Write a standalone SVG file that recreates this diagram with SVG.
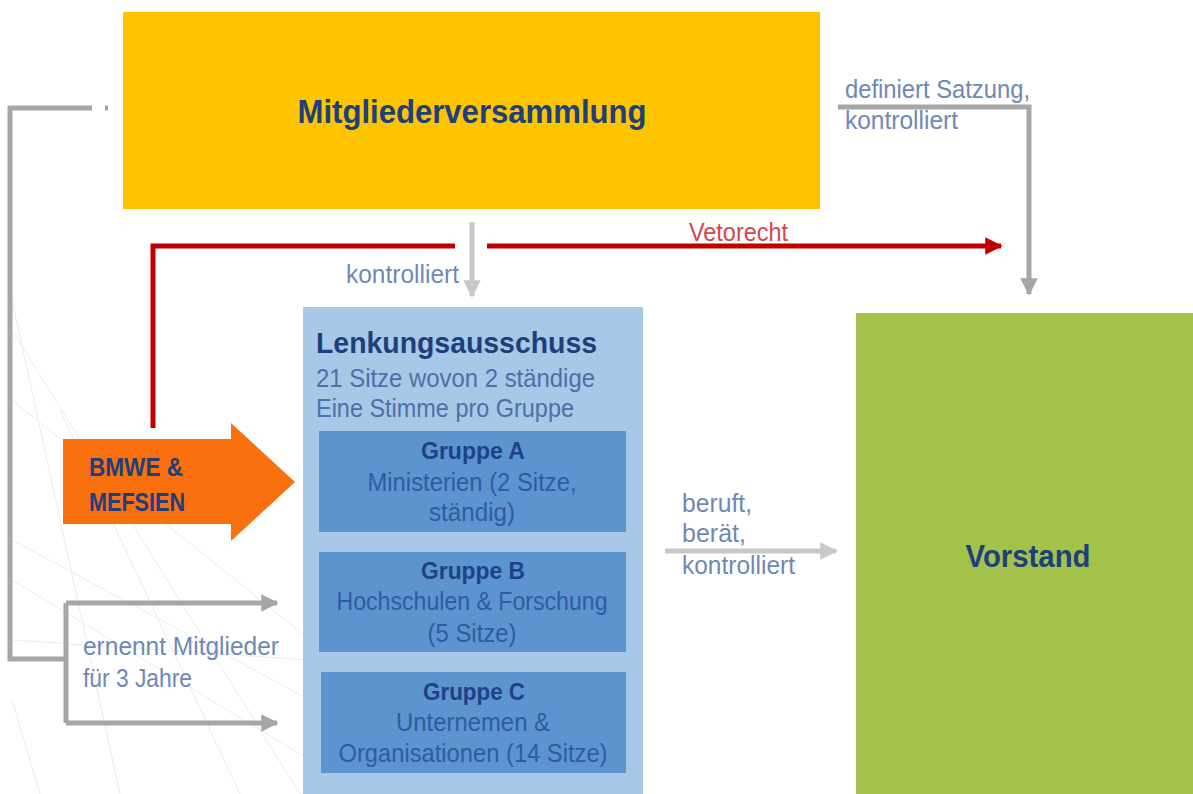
<svg xmlns="http://www.w3.org/2000/svg" width="1193" height="794" viewBox="0 0 1193 794">
<style>
.t{font-family:"Liberation Sans","DejaVu Sans",sans-serif}
.h{font-weight:bold;fill:#1D3F7C}
.lab{fill:#6F88B6;font-size:25px}
.grp{fill:#2F5C9F;font-size:25px}
.gt{font-weight:bold;fill:#1E4285;font-size:24px}
.sub{fill:#4F6FA8;font-size:26px}
.gray{stroke:#A6A6A6;stroke-width:5;fill:none}
.lgray{stroke:#C8C8C8;stroke-width:5;fill:none}
.red{stroke:#C00000;stroke-width:5;fill:none}
.deco{stroke:#E9ECEF;stroke-width:1;fill:none}
</style>
<defs>
<marker id="ag" viewBox="0 0 10 10" refX="9" refY="5" markerWidth="3.5" markerHeight="3.5" orient="auto" markerUnits="strokeWidth"><path d="M0,0 L10,5 L0,10 z" fill="#A6A6A6"/></marker>
<marker id="alg" viewBox="0 0 10 10" refX="9" refY="5" markerWidth="3.5" markerHeight="3.5" orient="auto" markerUnits="strokeWidth"><path d="M0,0 L10,5 L0,10 z" fill="#C8C8C8"/></marker>
<marker id="ar" viewBox="0 0 10 10" refX="9" refY="5" markerWidth="3.5" markerHeight="3.5" orient="auto" markerUnits="strokeWidth"><path d="M0,0 L10,5 L0,10 z" fill="#C00000"/></marker>
</defs>
<rect width="1193" height="794" fill="#FFFFFF"/>
<g id="decoration">
<path class="deco" d="M12,300 L120,794"/>
<path class="deco" d="M12,330 L300,794"/>
<path class="deco" d="M12,400 L310,640"/>
<path class="deco" d="M12,540 L310,700"/>
<path class="deco" d="M12,580 L310,760"/>
<path class="deco" d="M60,410 L240,794"/>
<path class="deco" d="M12,640 L310,660"/>
<path class="deco" d="M12,700 L40,794"/>
</g>
<g id="connectors">
<path class="gray" d="M92,108 L10,108 L10,659 L66,659"/>
<path class="gray" d="M105,108 L108,108"/>
<path class="gray" d="M66,603 L66,723"/>
<path class="gray" d="M66,603 L277,603" marker-end="url(#ag)"/>
<path class="gray" d="M66,723 L277,723" marker-end="url(#ag)"/>
<path class="red" d="M153,428 L153,246 L455,246"/>
<path class="red" d="M487,246 L1001,246" marker-end="url(#ar)"/>
<path class="lgray" d="M472,222 L472,296" marker-end="url(#alg)"/>
<path class="gray" d="M838,107 L1029,107 L1029,294" marker-end="url(#ag)"/>
<path class="lgray" d="M665,551 L836,551" marker-end="url(#alg)"/>
<text class="t lab" x="83" y="655" textLength="196" lengthAdjust="spacingAndGlyphs">ernennt Mitglieder</text>
<text class="t lab" x="83" y="687" textLength="109" lengthAdjust="spacingAndGlyphs">für 3 Jahre</text>
<text class="t lab" x="346" y="283" textLength="113" lengthAdjust="spacingAndGlyphs">kontrolliert</text>
<text class="t" x="689" y="241" font-size="25" fill="#D2474C" textLength="99" lengthAdjust="spacingAndGlyphs">Vetorecht</text>
<text class="t lab" x="845" y="98" textLength="185" lengthAdjust="spacingAndGlyphs">definiert Satzung,</text>
<text class="t lab" x="845" y="129" textLength="113" lengthAdjust="spacingAndGlyphs">kontrolliert</text>
<text class="t lab" x="682" y="512" textLength="70" lengthAdjust="spacingAndGlyphs">beruft,</text>
<text class="t lab" x="682" y="542" textLength="64" lengthAdjust="spacingAndGlyphs">berät,</text>
<text class="t lab" x="682" y="574" textLength="113" lengthAdjust="spacingAndGlyphs">kontrolliert</text>
</g>
<g id="mitgliederversammlung">
<rect x="123" y="12" width="697" height="197" fill="#FDC400"/>
<text class="t h" x="472" y="123" font-size="33" text-anchor="middle" textLength="349" lengthAdjust="spacingAndGlyphs">Mitgliederversammlung</text>
</g>
<g id="lenkungsausschuss">
<rect x="303" y="307" width="340" height="487" fill="#A8C8E7"/>
<text class="t h" x="316" y="353" font-size="30" textLength="281" lengthAdjust="spacingAndGlyphs">Lenkungsausschuss</text>
<text class="t sub" x="316" y="387" textLength="279" lengthAdjust="spacingAndGlyphs">21 Sitze wovon 2 ständige</text>
<text class="t sub" x="316" y="417" textLength="258" lengthAdjust="spacingAndGlyphs">Eine Stimme pro Gruppe</text>
</g>
<g id="gruppe-a">
<rect x="319" y="431" width="307" height="101" fill="#5B94CF"/>
<text class="t gt" x="473" y="459" text-anchor="middle" textLength="104" lengthAdjust="spacingAndGlyphs">Gruppe A</text>
<text class="t grp" x="472" y="491" text-anchor="middle" textLength="209" lengthAdjust="spacingAndGlyphs">Ministerien (2 Sitze,</text>
<text class="t grp" x="472" y="521" text-anchor="middle" textLength="86" lengthAdjust="spacingAndGlyphs">ständig)</text>
</g>
<g id="gruppe-b">
<rect x="319" y="552" width="307" height="100" fill="#5B94CF"/>
<text class="t gt" x="473" y="579" text-anchor="middle" textLength="104" lengthAdjust="spacingAndGlyphs">Gruppe B</text>
<text class="t grp" x="472" y="610" text-anchor="middle" textLength="271" lengthAdjust="spacingAndGlyphs">Hochschulen &amp; Forschung</text>
<text class="t grp" x="472" y="642" text-anchor="middle" textLength="89" lengthAdjust="spacingAndGlyphs">(5 Sitze)</text>
</g>
<g id="gruppe-c">
<rect x="321" y="672" width="305" height="101" fill="#5B94CF"/>
<text class="t gt" x="474" y="700" text-anchor="middle" textLength="102" lengthAdjust="spacingAndGlyphs">Gruppe C</text>
<text class="t grp" x="473" y="731" text-anchor="middle" textLength="154" lengthAdjust="spacingAndGlyphs">Unternemen &amp;</text>
<text class="t grp" x="473" y="762" text-anchor="middle" textLength="269" lengthAdjust="spacingAndGlyphs">Organisationen (14 Sitze)</text>
</g>
<g id="bmwe-mefsien">
<path d="M63,439 L231,439 L231,423 L295,482 L231,541 L231,524 L63,524 Z" fill="#FA700E"/>
<text class="t h" x="89" y="476" font-size="25" textLength="94" lengthAdjust="spacingAndGlyphs">BMWE &amp;</text>
<text class="t h" x="89" y="511" font-size="25" textLength="96" lengthAdjust="spacingAndGlyphs">MEFSIEN</text>
</g>
<g id="vorstand">
<rect x="856" y="313" width="337" height="481" fill="#A3C14B"/>
<text class="t h" x="1028" y="567" font-size="31" text-anchor="middle" textLength="125" lengthAdjust="spacingAndGlyphs">Vorstand</text>
</g>
</svg>
